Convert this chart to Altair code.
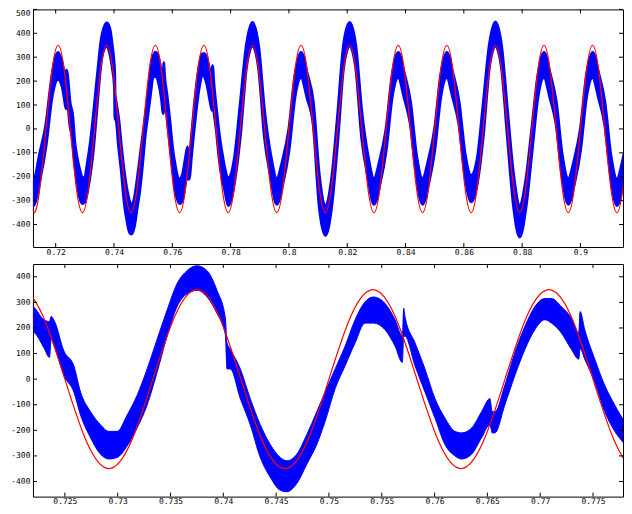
import altair as alt
import pandas as pd

# ---- red reference sine (values read at 1/8-cycle points) ----
red_t = [0.71042, 0.71250, 0.71458, 0.71667, 0.71875, 0.72083, 0.72292, 0.72500,
         0.72708, 0.72917, 0.73125, 0.73333, 0.73542, 0.73750, 0.73958, 0.74167,
         0.74375, 0.74583, 0.74792, 0.75000, 0.75208, 0.75417, 0.75625, 0.75833,
         0.76042, 0.76250, 0.76458, 0.76667, 0.76875, 0.77083, 0.77292, 0.77500,
         0.77708, 0.77917, 0.78125, 0.78333, 0.78542, 0.78750, 0.78958, 0.79167,
         0.79375, 0.79583, 0.79792, 0.80000, 0.80208, 0.80417, 0.80625, 0.80833,
         0.81042, 0.81250, 0.81458, 0.81667, 0.81875, 0.82083, 0.82292, 0.82500,
         0.82708, 0.82917, 0.83125, 0.83333, 0.83542, 0.83750, 0.83958, 0.84167,
         0.84375, 0.84583, 0.84792, 0.85000, 0.85208, 0.85417, 0.85625, 0.85833,
         0.86042, 0.86250, 0.86458, 0.86667, 0.86875, 0.87083, 0.87292, 0.87500,
         0.87708, 0.87917, 0.88125, 0.88333, 0.88542, 0.88750, 0.88958, 0.89167,
         0.89375, 0.89583, 0.89792, 0.90000, 0.90208, 0.90417, 0.90625, 0.90833,
         0.91042, 0.91250, 0.91458, 0.91667, 0.91875]
red_v = [-247, -350, -247, 0, 247, 350, 247, 0,
         -247, -350, -247, 0, 247, 350, 247, 0,
         -247, -350, -247, 0, 247, 350, 247, 0,
         -247, -350, -247, 0, 247, 350, 247, 0,
         -247, -350, -247, 0, 247, 350, 247, 0,
         -247, -350, -247, 0, 247, 350, 247, 0,
         -247, -350, -247, 0, 247, 350, 247, 0,
         -247, -350, -247, 0, 247, 350, 247, 0,
         -247, -350, -247, 0, 247, 350, 247, 0,
         -247, -350, -247, 0, 247, 350, 247, 0,
         -247, -350, -247, 0, 247, 350, 247, 0,
         -247, -350, -247, 0, 247, 350, 247, 0,
         -247, -350, -247, 0, 247]

# ---- blue measured signal: lower / upper envelope of the ripple band ----
blue_t = [0.7115, 0.7125, 0.71458, 0.71667, 0.71875, 0.72083,
          0.72217, 0.72301, 0.72355, 0.72370, 0.72400, 0.72491, 0.72585, 0.72648,
          0.72743, 0.72837, 0.72916, 0.72995, 0.73090, 0.73184, 0.73279, 0.73373,
          0.73468, 0.73562, 0.73657, 0.73751, 0.73846, 0.73940, 0.74019, 0.74035,
          0.74066, 0.74161, 0.74255, 0.74350, 0.74444, 0.74539, 0.74602, 0.74696,
          0.74791, 0.74885, 0.74964, 0.75059, 0.75153, 0.75248, 0.75342, 0.75421,
          0.75531, 0.75626, 0.75695, 0.75708, 0.75720, 0.75815, 0.75909, 0.76004,
          0.76098, 0.76193, 0.76256, 0.76351, 0.76445, 0.76524, 0.76546, 0.76571,
          0.76665, 0.76760, 0.76855, 0.76949, 0.77044, 0.77107, 0.77201, 0.77296,
          0.77365, 0.77378, 0.77422, 0.77517, 0.77611, 0.77706, 0.77800,
          0.77917, 0.78125, 0.78333, 0.78542, 0.78750, 0.78958, 0.79167, 0.79375,
          0.79583, 0.79792, 0.80000, 0.80208, 0.80417, 0.80625, 0.80833, 0.81042,
          0.81250, 0.81458, 0.81667, 0.81875, 0.82083, 0.82292, 0.82500, 0.82708,
          0.82917, 0.83125, 0.83333, 0.83542, 0.83750, 0.83958, 0.84167, 0.84375,
          0.84583, 0.84792, 0.85000, 0.85208, 0.85417, 0.85625, 0.85833, 0.86042,
          0.86250, 0.86458, 0.86667, 0.86875, 0.87083, 0.87292, 0.87500, 0.87708,
          0.87917, 0.88125, 0.88333, 0.88542, 0.88750, 0.88958, 0.89167, 0.89375,
          0.89583, 0.89792, 0.90000, 0.90208, 0.90417, 0.90625, 0.90833, 0.91042,
          0.91250, 0.91458, 0.91667, 0.91800]
blue_lo = [-322, -320, -215, -70, 135, 208,
           180, 123, 85, 155, 130, 14, -50, -140,
           -229, -293, -312, -306, -261, -191, -101, 27,
           168, 283, 334, 347, 321, 257, 175, 40,
           40, -76, -178, -306, -383, -434, -440, -408,
           -332, -255, -165, -37, 52, 142, 219, 219,
           193, 129, 65, 168, 168, 52, -50, -152,
           -255, -300, -312, -293, -229, -178, -210, -210,
           -101, 14, 116, 193, 232, 219, 180, 116,
           78, 120, 78, -12, -127, -204, -255,
           -320, -229, -28, 258, 347, 257, -40, -200,
           -315, -229, -90, 135, 215, 129, 20, -325,
           -445, -332, -60, 258, 347, 257, -40, -200,
           -315, -229, -90, 135, 215, 129, 20, -200,
           -315, -229, -90, 135, 215, 129, 20, -195,
           -305, -229, -28, 258, 347, 257, -40, -325,
           -452, -332, -100, 135, 215, 129, 20, -200,
           -315, -229, -90, 135, 215, 129, 20, -200,
           -320, -229, -90, -20]
blue_hi = [-215, -212, -100, 20, 225, 320,
           277, 232, 225, 245, 228, 110, 52, -50,
           -127, -178, -204, -204, -140, -63, 40, 155,
           270, 373, 424, 443, 424, 347, 240, 142,
           117, 40, -76, -178, -255, -306, -319, -293,
           -216, -127, -50, 40, 129, 232, 302, 321,
           296, 232, 168, 277, 245, 142, 40, -76,
           -152, -204, -210, -191, -127, -76, -127, -127,
           -24, 104, 206, 283, 315, 315, 283, 238,
           180, 264, 193, 78, -24, -101, -165,
           -205, -127, 106, 350, 445, 347, 70, -110,
           -208, -127, 0, 225, 320, 232, 115, -195,
           -320, -216, 50, 350, 445, 347, 70, -110,
           -208, -127, 0, 225, 320, 232, 115, -110,
           -208, -127, 0, 225, 320, 232, 115, -105,
           -195, -127, 106, 350, 447, 347, 70, -195,
           -320, -216, 0, 225, 320, 232, 115, -110,
           -208, -127, 0, 225, 320, 232, 115, -110,
           -210, -127, 0, 60]

top_xticks = [0.72, 0.74, 0.76, 0.78, 0.8, 0.82, 0.84, 0.86, 0.88, 0.9]
top_yticks = [-400, -300, -200, -100, 0, 100, 200, 300, 400, 500]
bot_xticks = [0.725, 0.73, 0.735, 0.74, 0.745, 0.75, 0.755, 0.76, 0.765, 0.77, 0.775]
bot_yticks = [-400, -300, -200, -100, 0, 100, 200, 300, 400]

red_df = pd.DataFrame({"t": red_t, "v": red_v})
blue_df = pd.DataFrame({"t": blue_t, "lo": blue_lo, "hi": blue_hi})

FONT = "DejaVu Sans Mono"


def panel(xdom, ydom, xticks, yticks, W, H, band_stroke, line_w, yflush):
    xs = alt.Scale(domain=xdom, nice=False, zero=False)
    ys = alt.Scale(domain=ydom, nice=False, zero=False)
    xax = alt.Axis(values=xticks, tickSize=0, domain=False, grid=False,
                   labelExpr="toString(datum.value)", labelFont=FONT,
                   labelFontSize=8, labelPadding=1, labelColor="black",
                   labelFlush=False, labelOverlap=False, title=None)
    yax = alt.Axis(values=yticks, tickSize=0, domain=False, grid=False,
                   labelExpr="toString(datum.value)", labelFont=FONT,
                   labelFontSize=8, labelPadding=3, labelColor="black",
                   labelFlush=yflush, labelOverlap=False, title=None)
    band = alt.Chart(blue_df).mark_area(
        color="#0000ff", stroke="#0000ff", strokeWidth=band_stroke,
        clip=True, interpolate="monotone", opacity=1
    ).encode(
        x=alt.X("t:Q", scale=xs, axis=xax),
        y=alt.Y("lo:Q", scale=ys, axis=yax),
        y2="hi:Q",
    )
    line = alt.Chart(red_df).mark_line(
        color="#ff0000", strokeWidth=line_w, clip=True, interpolate="natural"
    ).encode(
        x=alt.X("t:Q", scale=xs, axis=xax),
        y=alt.Y("v:Q", scale=ys, axis=yax),
    )
    xt_df = pd.DataFrame({"t": xticks})
    yt_df = pd.DataFrame({"v": yticks})
    xt_b = alt.Chart(xt_df).mark_rule(color="black").encode(
        x=alt.X("t:Q", scale=xs, axis=xax), y=alt.value(H), y2=alt.value(H - 4))
    xt_t = alt.Chart(xt_df).mark_rule(color="black").encode(
        x=alt.X("t:Q", scale=xs, axis=xax), y=alt.value(0), y2=alt.value(4))
    yt_l = alt.Chart(yt_df).mark_rule(color="black").encode(
        y=alt.Y("v:Q", scale=ys, axis=yax), x=alt.value(0), x2=alt.value(4))
    yt_r = alt.Chart(yt_df).mark_rule(color="black").encode(
        y=alt.Y("v:Q", scale=ys, axis=yax), x=alt.value(W), x2=alt.value(W - 4))
    return alt.layer(band, line, xt_b, xt_t, yt_l, yt_r).properties(width=W, height=H)


top = panel([0.7122, 0.9146], [-494, 500], top_xticks, top_yticks, 591, 238, 3, 1.2, True)
bottom = panel([0.72198, 0.77784], [-459, 450], bot_xticks, bot_yticks, 591, 233, 1, 1.2, False)

chart = alt.vconcat(top, bottom, spacing=6).properties(
    padding={"left": 2, "top": 0, "right": 0, "bottom": 0},
    background="white",
).configure_view(stroke="black", strokeWidth=1)

chart.save("out.html", embed_options={"renderer": "svg", "actions": False})
